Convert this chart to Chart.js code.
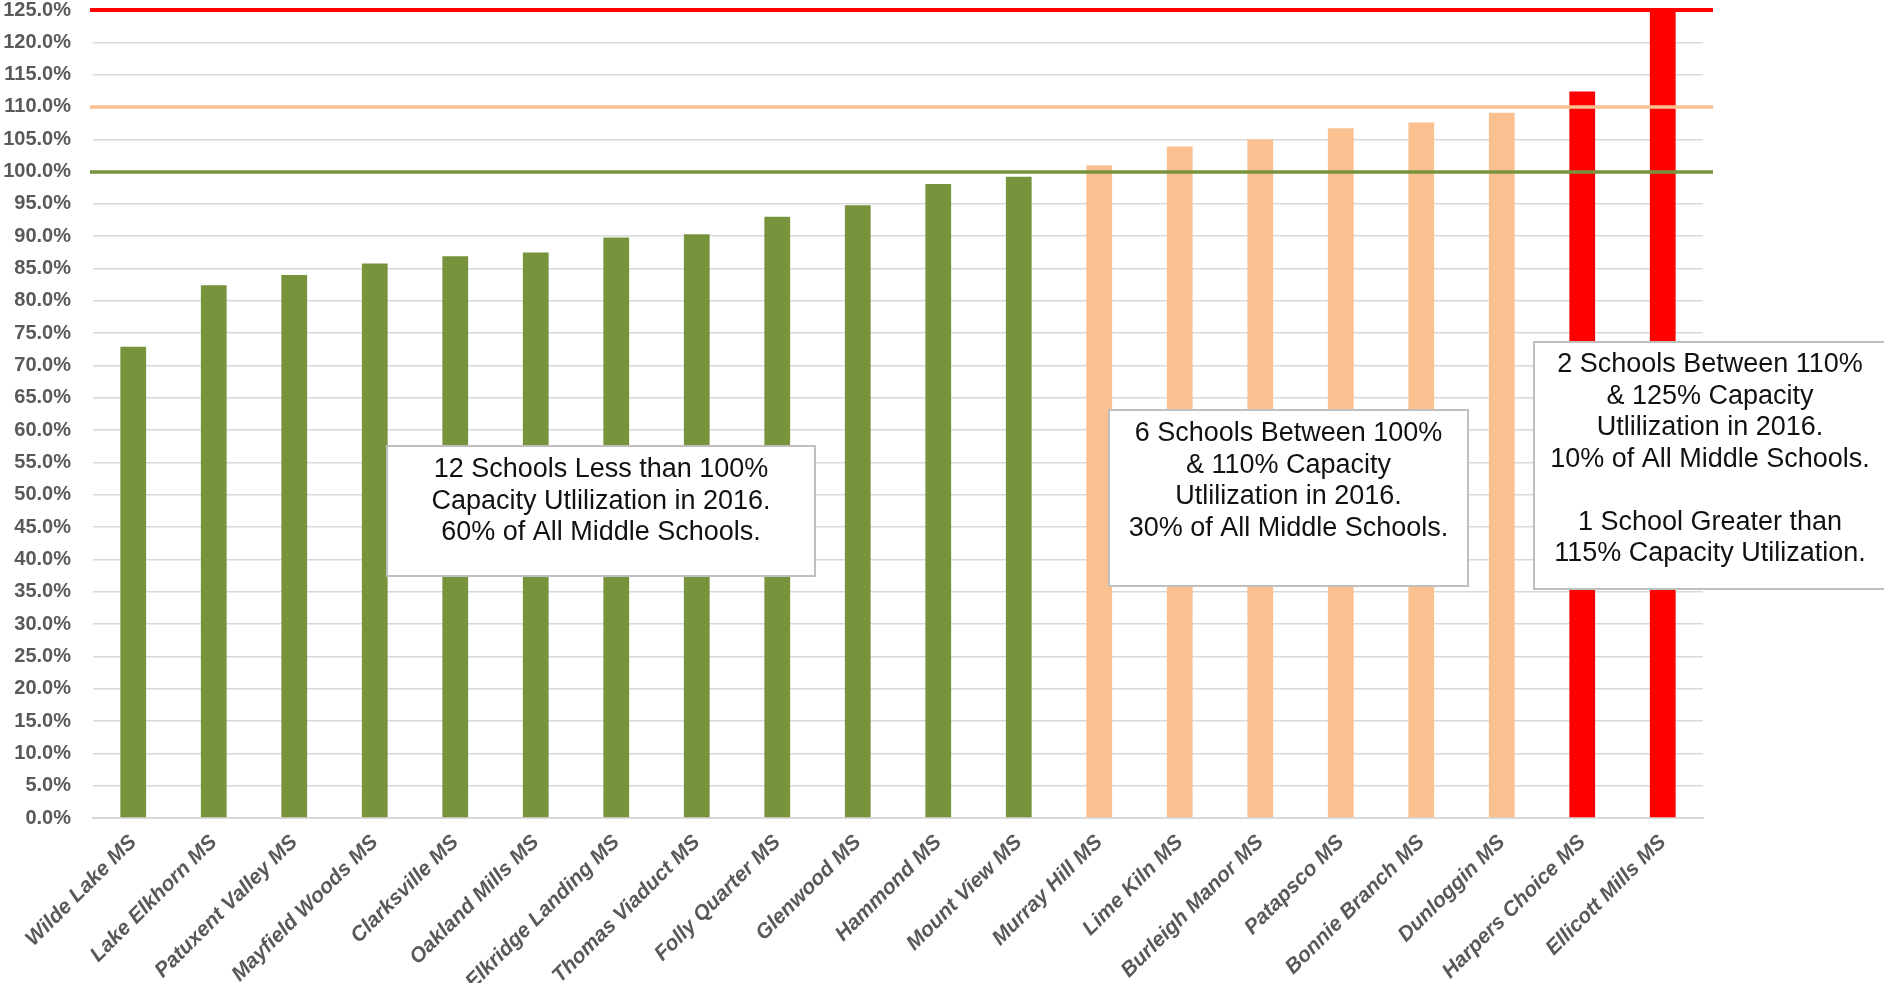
<!DOCTYPE html>
<html>
<head>
<meta charset="utf-8">
<script src="https://cdn.jsdelivr.net/npm/chart.js@4/dist/chart.umd.min.js"></script>
<style>
  html, body { margin: 0; padding: 0; background: #fff; }
</style>
</head>
<body>
<canvas id="chart" width="1884" height="983"></canvas>
<script>
const schools = [
  'Wilde Lake MS', 'Lake Elkhorn MS', 'Patuxent Valley MS', 'Mayfield Woods MS',
  'Clarksville MS', 'Oakland Mills MS', 'Elkridge Landing MS', 'Thomas Viaduct MS',
  'Folly Quarter MS', 'Glenwood MS', 'Hammond MS', 'Mount View MS',
  'Murray Hill MS', 'Lime Kiln MS', 'Burleigh Manor MS', 'Patapsco MS',
  'Bonnie Branch MS', 'Dunloggin MS', 'Harpers Choice MS', 'Ellicott Mills MS'
];
const utilization = [
  72.9, 82.4, 84.0, 85.8, 86.9, 87.5, 89.8, 90.3, 93.0, 94.8,
  98.1, 99.2, 101.0, 103.9, 105.0, 106.7, 107.6, 109.1, 112.4, 127.0
];
const thresholds = [100, 110, 125];

const noteLow = [
  '12 Schools Less than 100%',
  'Capacity Utlilization in 2016.',
  '60% of All Middle Schools.'
];
const noteMid = [
  '6 Schools Between 100%',
  '& 110% Capacity',
  'Utlilization in 2016.',
  '30% of All Middle Schools.'
];
const noteHigh = [
  '2 Schools Between 110%',
  '& 125% Capacity',
  'Utlilization in 2016.',
  '10% of All Middle Schools.',
  '',
  '1 School Greater than',
  '115% Capacity Utilization.'
];

const GREEN = '#77933C';
const PEACH = '#FAC090';
const RED = '#FF0000';
const FONT = "'Liberation Sans', Arial, sans-serif";

function colorFor(v) {
  if (v < 100) return GREEN;
  if (v < 110) return PEACH;
  return RED;
}
const lineColors = { 100: GREEN, 110: PEACH, 125: RED };

// horizontal threshold lines, drawn over the bars
const thresholdLines = {
  id: 'thresholdLines',
  afterDatasetsDraw(chart) {
    const ctx = chart.ctx;
    const area = chart.chartArea;
    const y = chart.scales.y;
    ctx.save();
    thresholds.forEach(t => {
      const py = Math.round(y.getPixelForValue(t));
      ctx.strokeStyle = lineColors[t];
      ctx.lineWidth = t == 125 ? 4 : 3.5;
      ctx.beginPath();
      ctx.moveTo(area.left - 3, py);
      ctx.lineTo(area.right + 10, py);
      ctx.stroke();
    });
    ctx.restore();
  }
};

// text boxes
const noteBoxes = {
  id: 'noteBoxes',
  afterDraw(chart) {
    const ctx = chart.ctx;
    const boxes = [
      { x: 387, y: 446, w: 428, h: 130, top: 470, lines: noteLow },
      { x: 1109, y: 410, w: 359, h: 176, top: 434, lines: noteMid },
      { x: 1534, y: 342, w: 352, h: 247, top: 365, lines: noteHigh }
    ];
    ctx.save();
    boxes.forEach(b => {
      ctx.fillStyle = '#fff';
      ctx.fillRect(b.x, b.y, b.w, b.h);
      ctx.strokeStyle = '#BFBFBF';
      ctx.lineWidth = 2;
      ctx.strokeRect(b.x, b.y, b.w, b.h);
      ctx.fillStyle = '#111';
      ctx.font = '27px ' + FONT;
      ctx.textAlign = 'center';
      ctx.textBaseline = 'middle';
      const cx = b.x + b.w / 2;
      b.lines.forEach((line, i) => {
        ctx.fillText(line, cx, b.top + i * 31.5);
      });
    });
    ctx.restore();
  }
};

new Chart(document.getElementById('chart'), {
  type: 'bar',
  data: {
    labels: schools,
    datasets: [{
      label: 'Capacity Utilization',
      data: utilization,
      backgroundColor: utilization.map(colorFor),
      barPercentage: 0.32,
      categoryPercentage: 1.0
    }]
  },
  options: {
    responsive: false,
    animation: false,
    layout: {
      padding: { top: 10, right: 181, left: 0, bottom: 0 }
    },
    plugins: {
      legend: { display: false },
      tooltip: { enabled: false }
    },
    scales: {
      x: {
        afterFit: function(scale) { scale.height = 165; },
        grid: { display: false },
        border: { color: '#D9D9D9', width: 2 },
        ticks: {
          autoSkip: false,
          maxRotation: 45,
          minRotation: 45,
          padding: 4,
          color: '#595959',
          font: { family: FONT, size: 21, weight: 'bold', style: 'italic' }
        }
      },
      y: {
        min: 0,
        max: 125,
        afterFit: function(scale) {
          scale.width = 93;
          scale.paddingTop = 0;
          scale.paddingBottom = 0;
        },
        border: { display: false },
        grid: { color: '#D9D9D9', lineWidth: 1.5, drawTicks: false },
        ticks: {
          stepSize: 5,
          padding: 22,
          color: '#595959',
          font: { family: FONT, size: 20, weight: 'bold' },
          callback: function(value) {
            return value.toFixed(1) + '%';
          }
        }
      }
    }
  },
  plugins: [thresholdLines, noteBoxes]
});
</script>
</body>
</html>
